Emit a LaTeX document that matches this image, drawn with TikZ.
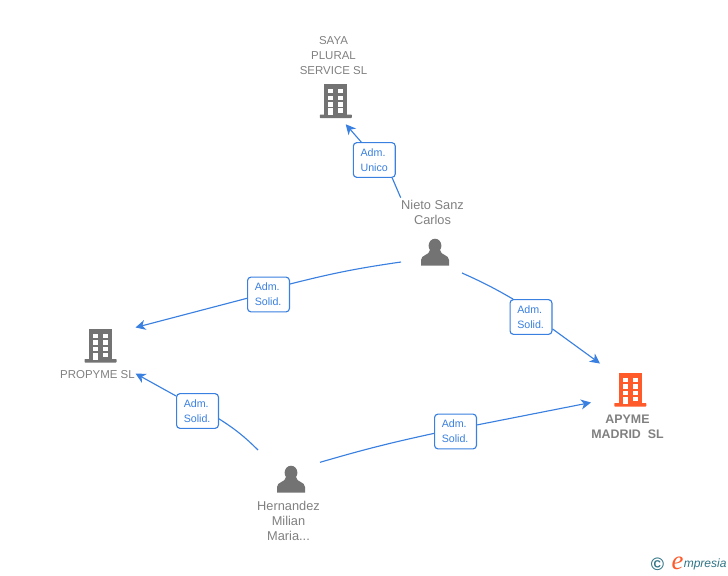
\documentclass[tikz,border=0pt]{standalone}
\usepackage{fontspec}
\setmainfont{Liberation Sans}
\newfontfamily\brandfont[Ligatures=TeX]{Liberation Serif}
\usetikzlibrary{arrows.meta}
\definecolor{linkblue}{HTML}{3A80E0}
\definecolor{icongray}{HTML}{737373}
\definecolor{textgray}{HTML}{808080}
\definecolor{mainorange}{HTML}{FF5A2A}
\definecolor{brandteal}{HTML}{2F7486}
\tikzset{
  conn/.style={draw=linkblue, line width=0.85pt},
  connarrow/.style={conn, -{Stealth[length=7.5pt,width=7.5pt,inset=2.2pt]}},
  role/.style={draw=linkblue, line width=0.85pt, rounded corners=2.5pt, fill=white, text=linkblue,
    font=\fontsize{8}{11.25}\selectfont, align=left, text width=20.6pt, inner xsep=5.4pt, inner ysep=0pt,
    minimum height=26pt},
  companytext/.style={text=textgray, font=\fontsize{8.6}{11.25}\selectfont, align=center, inner sep=0pt},
  persontext/.style={text=textgray, font=\fontsize{9.6}{11.25}\selectfont, align=center, inner sep=0pt},
  pics/building/.style={code={
    \fill[#1] (-11.5,-31) rectangle (11.5,0);
    \fill[#1, rounded corners=0.5pt] (-16,-0.5) rectangle (16,3);
    \foreach \wy in {-26,-19.4,-12.8} {
      \fill[white] (-7.5,\wy) rectangle (-2.5,\wy+4.4);
      \fill[white] (2.5,\wy) rectangle (7.5,\wy+4.4);
    }
    \fill[white] (-7.5,-6.7) rectangle (-2.5,0);
    \fill[white] (2.5,-6.7) rectangle (7.5,-2.3);
  }},
  pics/person/.style={code={
    \fill[icongray] (0,-6.3) ellipse (6.4 and 7);
    \fill[icongray] (-14,13.7) -- (-14,8) .. controls (-14,2.5) and (-5.5,3.5) .. (-5,-2)
      -- (5,-2) .. controls (5.5,3.5) and (14,2.5) .. (14,8) -- (14,13.7) -- cycle;
  }}
}
\begin{document}
\begin{tikzpicture}[x=0.75pt,y=-0.75pt]
  \useasboundingbox (0,0) rectangle (728,575);

  % companies and people
  \pic (sayaicon) at (335.8,115) {building=icongray};
  \pic (propymeicon) at (100.5,359.5) {building=icongray};
  \pic (apymeicon) at (630.3,403.5) {building=mainorange};
  \pic (nietoicon) at (435,252) {person};
  \pic (hernandezicon) at (291,479) {person};

  \node [companytext] (saya) at (333.5,55.7) {SAYA\\PLURAL\\SERVICE SL};
  \node [persontext] (nieto) at (432.5,212.7) {Nieto Sanz\\Carlos};
  \node [companytext] (propyme) at (97.5,374.7) {PROPYME SL};
  \node [companytext, font=\fontsize{9.3}{11.25}\selectfont\bfseries] (apyme) at (627.5,426.8) {APYME\\MADRID\ \ SL};
  \node [persontext] (hernandez) at (288.5,520.8) {Hernandez\\Milian\\Maria...};

  % free ends of the connectors
  \coordinate (nietoup) at (400.7,197.7);
  \coordinate (nietoleft) at (401,262);
  \coordinate (nietoright) at (462,273);
  \coordinate (hernandezleft) at (258,450);
  \coordinate (hernandezright) at (320,462.3);
  \coordinate (sayain) at (345.7,124.3);
  \coordinate (propymetop) at (135.5,327.5);
  \coordinate (propymelow) at (135.5,373.5);
  \coordinate (apymetop) at (600,363.5);
  \coordinate (apymelow) at (591,402.5);

  % role boxes
  \node [role] (rolesaya) at (374.3,160) {Adm.\\Unico};
  \node [role] (rolepropymea) at (268.5,294.5) {Adm.\\Solid.};
  \node [role] (roleapymea) at (531,317) {Adm.\\Solid.};
  \node [role] (rolepropymeb) at (197.5,411) {Adm.\\Solid.};
  \node [role] (roleapymeb) at (455.5,431.5) {Adm.\\Solid.};

  % connectors
  \draw [conn] (nietoup) -- (rolesaya.-45);
  \draw [connarrow] (rolesaya.126) -- (sayain);
  \draw [conn] (nietoleft) to [bend right=3] (rolepropymea.26);
  \draw [connarrow] (rolepropymea.190) -- (propymetop);
  \draw [conn] (nietoright) to [bend left=3] (roleapymea.135);
  \draw [connarrow] (roleapymea.-29) -- (apymetop);
  \draw [conn] (hernandezleft) to [bend right=6] (rolepropymeb.-20);
  \draw [connarrow] (rolepropymeb.145) -- (propymelow);
  \draw [conn] (hernandezright) to [bend left=2] (roleapymeb.185);
  \draw [connarrow] (roleapymeb.17) -- (apymelow);

  % brand mark
  \node [text=brandteal, font=\bfseries\fontsize{13.5}{13.5}\selectfont, inner sep=0pt] (brandc) at (657.5,564) {©};
  \node [text=mainorange, font=\brandfont\itshape\fontsize{20}{20}\selectfont, inner sep=0pt] (brande) at (677.5,563) {e};
  \node [text=brandteal, font=\itshape\fontsize{9}{9}\selectfont, inner sep=0pt, anchor=west] (brandname) at (683.5,564) {mpresia};
\end{tikzpicture}
\end{document}
